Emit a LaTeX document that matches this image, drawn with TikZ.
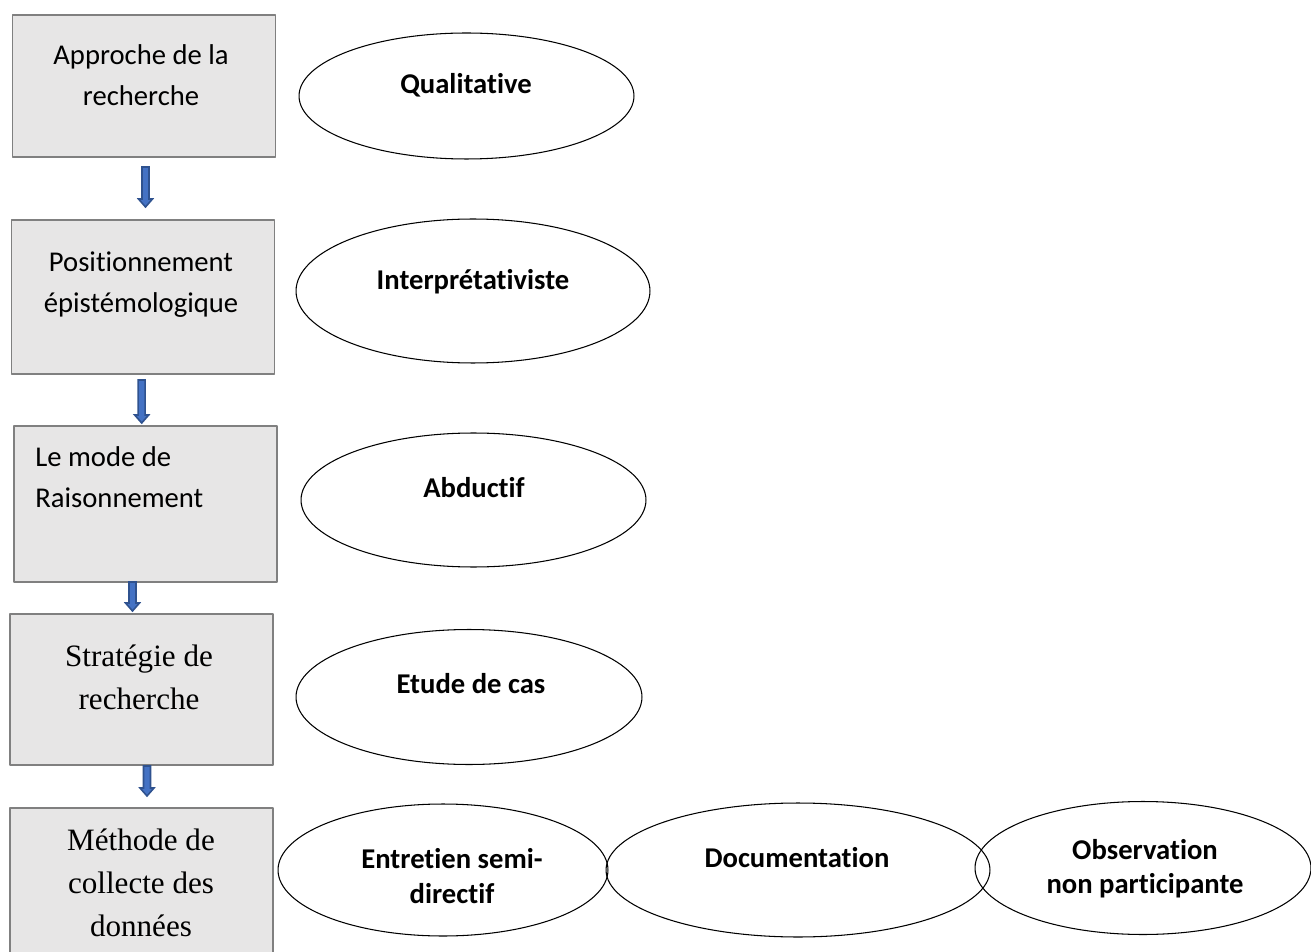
\documentclass[tikz,border=0pt]{standalone}
\usepackage{fontspec}
\setmainfont{Carlito}[Ligatures=NoCommon]
\newfontfamily\timesfont{Liberation Serif}
\usetikzlibrary{shapes.geometric,calc}
\definecolor{fondgris}{HTML}{E7E6E6}
\definecolor{bordgris}{HTML}{808080}
\definecolor{bleufleche}{HTML}{4472C4}
\definecolor{bleufonce}{HTML}{2F528F}
\tikzset{
	boite/.style={draw=bordgris, fill=fondgris, line width=0.8pt, minimum width=5.26cm, inner sep=0pt},
	ovale/.style={draw, ellipse, line width=0.6pt, inner sep=0pt},
	fleche/.style={fill=bleufleche, draw=bleufonce, line width=0.9pt, line join=miter},
	txtboite/.style={font=\fontsize{16.3}{23}\selectfont, align=center, inner sep=0pt},
	txttimes/.style={font=\timesfont\fontsize{17.7}{24.5}\selectfont, align=center, inner sep=0pt},
	txtovale/.style={font=\bfseries\fontsize{16.3}{19.5}\selectfont, align=center, inner sep=0pt}
}
\newcommand{\flechebas}[2]{%
	\filldraw[fleche] ($(#1)+(-3.5,0)$) -- ($(#2)+(-3.5,-8)$) -- ($(#2)+(-7,-8)$) -- (#2)
	-- ($(#2)+(7,-8)$) -- ($(#2)+(3.5,-8)$) -- ($(#1)+(3.5,0)$) -- cycle;}
\begin{document}
\begin{tikzpicture}[x=0.02cm, y=-0.02cm, line join=round]
	\clip (0,0) rectangle (1311,952);
	\fill[white] (0,0) rectangle (1311,952);
	
	\node[boite, minimum height=2.84cm] (approche) at (144,86) {};
	\node[boite, minimum height=3.08cm] (position) at (143,297) {};
	\node[boite, minimum height=3.12cm] (mode) at (145.5,504) {};
	\node[boite, minimum height=3.02cm] (strategie) at (141.5,689.5) {};
	\node[boite, minimum height=3.14cm] (methode) at (141.5,886.5) {};
	
	\node[txtboite] (tapproche) at (141,75) {Approche de la\\recherche};
	\node[txtboite] (tposition) at (141,284.5) {Positionnement\\épistémologique};
	\node[txtboite, align=left, anchor=west] (tmode) at (35,477) {Le mode de\\Raisonnement};
	\node[txttimes] (tstrategie) at (139,677) {Stratégie de\\recherche};
	\node[txttimes] (tmethode) at (141,883) {Méthode de\\collecte des\\données};
	
	\node[ovale, minimum width=6.7cm, minimum height=2.52cm] (qual) at (466.5,96) {};
	\node[ovale, minimum width=7.08cm, minimum height=2.88cm] (interp) at (473,291) {};
	\node[ovale, minimum width=6.9cm, minimum height=2.68cm] (abduc) at (473.5,500) {};
	\node[ovale, minimum width=6.92cm, minimum height=2.7cm] (etude) at (469,697) {};
	\node[ovale, minimum width=6.6cm, minimum height=2.64cm] (entretien) at (443,870) {};
	\node[ovale, minimum width=7.68cm, minimum height=2.68cm] (docu) at (798,870) {};
	\node[ovale, minimum width=6.72cm, minimum height=2.66cm] (obs) at (1143,868) {};
	
	\node[txtovale] (tqual) at (466,85) {Qualitative};
	\node[txtovale] (tinterp) at (473,282) {Interprétativiste};
	\node[txtovale] (tabduc) at (474,488) {Abductif};
	\node[txtovale] (tetude) at (471,684) {Etude de cas};
	\node[txtovale] (tentretien) at (452,876) {Entretien semi-\\directif};
	\node[txtovale] (tdocu) at (797,858) {Documentation};
	\node[txtovale] (tobs) at (1145,869) {Observation\\non participante};
	
	\coordinate (f1a) at (145.5,167); \coordinate (f1b) at (145.5,207);
	\coordinate (f2a) at (141.7,380); \coordinate (f2b) at (141.7,423);
	\coordinate (f3a) at (132.5,582); \coordinate (f3b) at (132.5,611);
	\coordinate (f4a) at (147,766); \coordinate (f4b) at (147,796);
	\flechebas{f1a}{f1b}
	\flechebas{f2a}{f2b}
	\flechebas{f3a}{f3b}
	\flechebas{f4a}{f4b}
\end{tikzpicture}
\end{document}
